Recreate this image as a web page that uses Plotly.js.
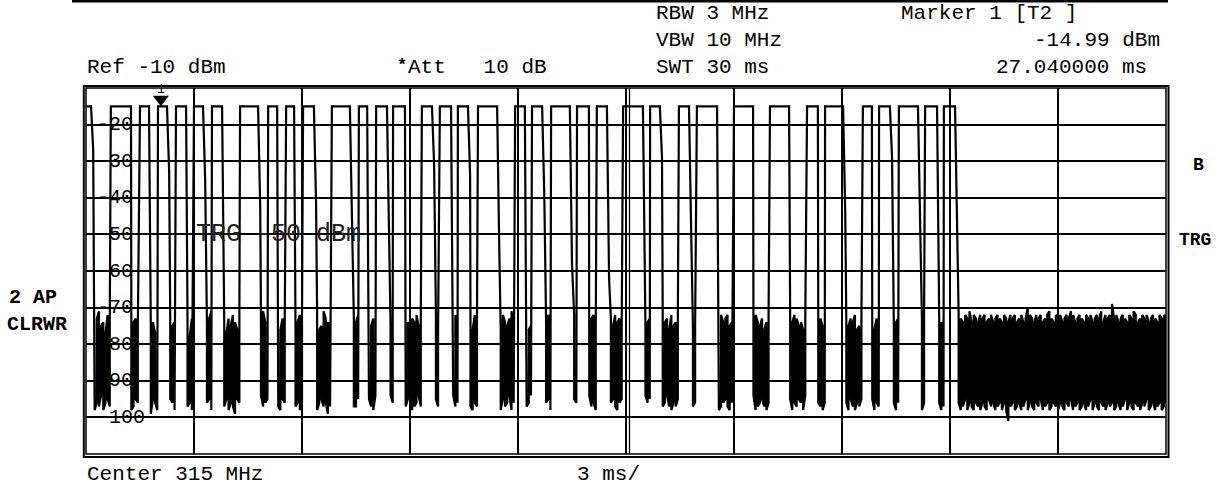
<!DOCTYPE html>
<html>
<head>
<meta charset="utf-8">
<script src="https://cdn.plot.ly/plotly-3.0.1.min.js"></script>
<style>
html,body{margin:0;padding:0;background:#fff;}
#chart{width:1228px;height:486px;}
</style>
</head>
<body>
<div id="chart"></div>
<script>
// ---------------- data ----------------
const sweepMs = 30;            // SWT 30 ms, 10 divisions of 3 ms
const nPoints = 501;           // trace points across the sweep
const refLevelDbm = -10;
const bottomDbm = -110;

// "on" periods of the OOK burst (ms)
const pulseStartMs = [0.00, 0.69, 1.50, 2.00, 2.50, 3.00, 3.50, 4.28, 5.06, 5.56,
                      6.03, 6.83, 7.58, 8.06, 8.53, 9.33, 9.83, 10.33, 10.89, 11.92,
                      12.39, 12.92, 13.64, 14.19, 14.92, 15.67, 16.47, 16.97, 18.00, 19.00,
                      20.03, 20.53, 21.58, 22.03, 22.58, 23.31, 23.83];
const pulseEndMs   = [0.14, 1.25, 1.75, 2.25, 2.78, 3.25, 3.78, 4.78, 5.31, 5.78,
                      6.33, 7.33, 7.81, 8.36, 8.86, 9.61, 10.14, 10.61, 11.42, 12.19,
                      12.67, 13.44, 13.97, 14.47, 15.47, 15.94, 16.75, 17.53, 18.53, 19.53,
                      20.33, 21.03, 21.83, 22.33, 23.11, 23.64, 24.14];
const pulseTopDbm = -15;
// level of the one sample caught half-way on each falling edge (null = none)
const fallMidDbm = [-27, null, null, -33, null, -35, null, -43, null, null,
                    -41, -44, null, -46, null, -31, null, -34, -54, null,
                    -39, -58, null, -62, -61, -29, -49, null, null, null,
                    null, -44, null, -29, -49, null, -51];

// auto-peak detector: max and min of the noise at each trace point (dBm)
const noiseMaxDbm = [
 -73,-75,-72,-74,-76,-73,-71,-75,-74,-77,-72,-74,-76,-73,-75,-72,-78,-74,-73,-75,-72,-76,-74,-73,-75,
 -74,-72,-76,-73,-71,-75,-74,-77,-73,-72,-75,-74,-76,-72,-73,-75,-74,-71,-76,-73,-75,-72,-74,-78,-73,
 -72,-75,-73,-76,-74,-72,-75,-73,-71,-74,-76,-73,-75,-72,-74,-77,-73,-75,-72,-74,-76,-73,-72,-75,-74,
 -75,-73,-72,-74,-76,-75,-73,-71,-74,-72,-75,-73,-77,-74,-72,-76,-73,-75,-74,-72,-73,-75,-76,-74,-72,
 -73,-74,-76,-72,-75,-73,-74,-72,-76,-75,-71,-73,-74,-75,-72,-73,-76,-74,-78,-72,-75,-73,-74,-76,-73,
 -74,-72,-75,-73,-74,-77,-72,-75,-73,-74,-76,-72,-73,-75,-74,-71,-75,-73,-72,-76,-74,-73,-75,-72,-74,
 -76,-73,-74,-72,-75,-73,-76,-74,-72,-73,-75,-74,-72,-76,-73,-75,-74,-72,-73,-77,-74,-72,-75,-73,-74,
 -72,-74,-73,-75,-76,-72,-74,-73,-75,-71,-74,-76,-73,-72,-75,-74,-73,-76,-72,-74,-75,-73,-71,-74,-76,
 -73,-75,-74,-72,-73,-76,-75,-73,-74,-72,-75,-73,-76,-74,-72,-73,-75,-74,-76,-72,-73,-75,-74,-73,-72,
 -75,-72,-73,-74,-76,-73,-72,-75,-74,-73,-72,-76,-74,-75,-73,-72,-74,-77,-73,-75,-72,-74,-73,-76,-74,
 -73,-74,-72,-75,-73,-76,-74,-72,-73,-75,-74,-73,-72,-76,-74,-73,-75,-72,-74,-73,-76,-72,-75,-74,-73,
 -74,-73,-75,-72,-74,-73,-76,-75,-72,-74,-73,-75,-74,-72,-73,-76,-74,-73,-75,-72,-74,-73,-72,-75,-74,
 -72,-75,-73,-74,-76,-72,-73,-75,-74,-73,-72,-74,-75,-73,-76,-74,-72,-73,-75,-74,-73,-72,-76,-74,-73,
 -75,-73,-74,-72,-73,-75,-74,-76,-73,-72,-74,-75,-73,-74,-72,-73,-75,-76,-74,-73,-72,-75,-74,-73,-76,
 -73,-72,-74,-75,-73,-74,-72,-76,-75,-73,-74,-72,-73,-75,-74,-76,-73,-72,-74,-75,-73,-74,-72,-73,-75,
 -74,-73,-75,-72,-74,-73,-76,-74,-72,-73,-75,-74,-73,-72,-74,-75,-73,-76,-74,-72,-73,-74,-75,-73,-72,
 -73,-72,-74,-73,-72,-73,-74,-72,-73,-71,-74,-72,-73,-74,-72,-73,-72,-74,-73,-72,-74,-73,-72,-73,-74,
 -72,-73,-74,-72,-73,-72,-74,-73,-72,-74,-73,-70,-72,-73,-74,-72,-73,-72,-74,-73,-72,-71,-73,-74,-72,
 -73,-72,-74,-73,-72,-73,-71,-72,-74,-73,-72,-73,-74,-72,-73,-72,-74,-73,-72,-73,-71,-74,-72,-73,-72,
 -69,-73,-72,-74,-73,-72,-73,-74,-72,-73,-71,-72,-74,-73,-72,-73,-72,-74,-73,-72,-73,-74,-72,-73,-72,
 -73
];
const noiseMinDbm = [
 -96,-98,-97,-95,-98,-96,-97,-94,-98,-96,-95,-97,-98,-96,-94,-97,-96,-98,-95,-97,-96,-98,-97,-95,-96,
 -97,-95,-98,-96,-97,-99,-95,-96,-98,-97,-94,-96,-97,-98,-95,-96,-98,-97,-95,-96,-98,-94,-97,-96,-98,
 -95,-97,-96,-98,-94,-97,-96,-95,-98,-97,-96,-94,-98,-96,-97,-95,-98,-96,-97,-99,-95,-96,-98,-97,-95,
 -98,-96,-95,-97,-96,-98,-94,-97,-96,-95,-98,-97,-96,-94,-97,-98,-95,-96,-97,-98,-96,-95,-97,-96,-98,
 -96,-97,-98,-95,-96,-94,-97,-98,-96,-95,-97,-96,-99,-97,-95,-96,-98,-97,-94,-96,-98,-95,-97,-96,-97,
 -97,-95,-96,-98,-97,-96,-95,-97,-98,-94,-96,-97,-95,-98,-96,-97,-94,-96,-98,-95,-97,-96,-98,-97,-95,
 -95,-98,-97,-96,-94,-97,-98,-95,-96,-97,-98,-96,-95,-97,-99,-96,-97,-95,-98,-96,-94,-97,-96,-98,-97,
 -98,-96,-95,-97,-98,-96,-97,-94,-96,-98,-95,-97,-96,-95,-98,-97,-96,-98,-95,-97,-96,-94,-98,-96,-97,
 -96,-97,-98,-95,-97,-96,-94,-98,-97,-95,-96,-98,-97,-96,-95,-98,-96,-97,-94,-96,-98,-97,-95,-96,-98,
 -97,-95,-96,-98,-96,-97,-98,-95,-94,-97,-96,-98,-95,-97,-96,-94,-98,-97,-96,-95,-97,-98,-96,-95,-97,
 -95,-97,-98,-96,-95,-97,-96,-98,-97,-94,-96,-95,-98,-97,-96,-98,-95,-97,-96,-94,-97,-98,-96,-97,-95,
 -98,-96,-97,-95,-98,-94,-97,-96,-95,-98,-97,-96,-94,-98,-96,-97,-95,-96,-98,-97,-96,-95,-97,-98,-96,
 -96,-98,-95,-97,-96,-98,-97,-95,-96,-94,-98,-97,-96,-95,-97,-98,-96,-94,-97,-96,-98,-95,-97,-96,-98,
 -97,-95,-98,-96,-97,-95,-96,-98,-94,-97,-96,-98,-97,-95,-96,-97,-98,-96,-95,-97,-99,-96,-95,-98,-97,
 -95,-97,-96,-98,-95,-97,-98,-96,-97,-95,-94,-98,-96,-97,-95,-98,-96,-97,-98,-95,-96,-97,-94,-98,-96,
 -98,-96,-97,-95,-98,-96,-95,-97,-98,-96,-97,-95,-98,-96,-94,-97,-98,-96,-95,-97,-96,-98,-97,-95,-96,
 -97,-96,-98,-97,-96,-98,-97,-95,-98,-96,-97,-98,-96,-97,-98,-96,-97,-98,-95,-97,-96,-98,-97,-96,-98,
 -96,-98,-101,-97,-96,-98,-97,-96,-98,-97,-95,-98,-96,-97,-98,-96,-97,-95,-98,-97,-96,-98,-97,-96,-97,
 -98,-96,-97,-98,-96,-97,-95,-98,-97,-96,-98,-97,-96,-98,-97,-95,-98,-96,-97,-98,-96,-97,-98,-96,-97,
 -96,-98,-97,-96,-98,-97,-95,-98,-96,-97,-98,-96,-97,-98,-96,-97,-95,-98,-97,-96,-98,-97,-96,-98,-97,
 -96
];

const yTickValues = [-20, -30, -40, -50, -60, -70, -80, -90, -100];
const yTickLabels = ['-20', '-30', '-40', '-50', '-60', '-70', '-80', '-90', '-100'];
const markerMs = 2.08;
const markerDbm = -14.99;

// ---------------- build trace (auto-peak: min/max per point) ----------------
const dt = sweepMs / (nPoints - 1);
const xs = [], ys = [];
let k = 0, i = 0, flip = false;
while (i < nPoints) {
  const t = i * dt;
  if (k < pulseStartMs.length && t >= pulseStartMs[k]) {
    xs.push(pulseStartMs[k]); ys.push(pulseTopDbm);
    xs.push(pulseEndMs[k]); ys.push(pulseTopDbm);
    let tResume = pulseEndMs[k];
    if (fallMidDbm[k] !== null) {
      tResume = pulseEndMs[k] + dt;
      xs.push(tResume); ys.push(fallMidDbm[k]);
    }
    while (i < nPoints && i * dt <= tResume) i++;
    k++;
    flip = false;
    continue;
  }
  xs.push(t, t);
  if (flip) ys.push(noiseMinDbm[i], noiseMaxDbm[i]);
  else ys.push(noiseMaxDbm[i], noiseMinDbm[i]);
  flip = !flip;
  i++;
}

// ---------------- geometry helpers ----------------
const W = 1228, H = 486, L = 86, R = 62, T = 88, B = 32;
const PW = W - L - R, PH = H - T - B;
const pxX = x => (x - L) / PW;
const pxY = y => (H - B - y) / PH;
const pxPerDb = PH / (refLevelDbm - bottomDbm);

const MONO = 'Liberation Mono, Courier New, DejaVu Sans Mono, monospace';
const nb = s => s.replace(/ /g, '\u00a0');
function txt(text, x, y, opt) {
  opt = opt || {};
  return {
    text: nb(text), xref: 'paper', yref: 'paper', x: pxX(x), y: pxY(y),
    xanchor: opt.xa || 'left', yanchor: 'middle', showarrow: false,
    font: {family: MONO, size: opt.size || 21, color: opt.color || '#000', weight: opt.bold ? 'bold' : 'normal'},
    borderpad: 0
  };
}

const annotations = [
  txt('RBW 3 MHz', 655, 13),
  txt('VBW 10 MHz', 655, 41),
  txt('SWT 30 ms', 655, 68),
  txt('Marker 1 [T2 ]', 900, 13),
  txt('-14.99 dBm', 1161, 41, {xa: 'right'}),
  txt('27.040000 ms', 1148, 68, {xa: 'right'}),
  txt('Ref -10 dBm', 86, 68),
  txt('*', 402, 66, {xa: 'center', bold: true, size: 17}),
  txt('Att   10 dB', 407, 68),
  txt('2 AP', 8, 297, {bold: true, size: 20}),
  txt('CLRWR', 6, 324, {bold: true, size: 20}),
  txt('B', 1199, 165, {xa: 'center', bold: true, size: 18}),
  txt('TRG', 1178, 240, {bold: true, size: 18}),
  txt('TRG -50 dBm', 195, 234, {size: 25, color: '#222'}),
  txt('Center 315 MHz', 86, 474),
  txt('3 ms/', 576, 474),
  txt('1', 161, 89, {xa: 'center', size: 13})
];
yTickValues.forEach((v, j) => {
  annotations.push({
    text: yTickLabels[j], xref: 'paper', yref: 'y', x: pxX(96), y: v,
    xanchor: 'left', yanchor: 'middle', showarrow: false, borderpad: 0,
    font: {family: MONO, size: 20, color: '#000'}
  });
});

const shapes = [
  // top bar
  {type: 'line', xref: 'paper', yref: 'paper', x0: pxX(72), x1: pxX(1168), y0: pxY(1.2), y1: pxY(1.2),
   line: {color: '#000', width: 2.5}},
  // inner frame
  {type: 'rect', xref: 'paper', yref: 'paper', x0: 0, x1: 1, y0: 0, y1: 1,
   line: {color: '#000', width: 1.5}},
  // outer frame
  {type: 'rect', xref: 'paper', yref: 'paper', x0: pxX(83.8), x1: pxX(1168.5), y0: pxY(457), y1: pxY(86),
   line: {color: '#000', width: 2}},
  // second line beside centre graticule
  {type: 'line', xref: 'paper', yref: 'paper', x0: pxX(629.5), x1: pxX(629.5), y0: 0, y1: 1,
   line: {color: '#000', width: 1.3}}
];
// white knock-outs behind level labels (grid hidden, trace on top)
yTickValues.forEach((v, j) => {
  const w = yTickLabels[j].length * 12 + 4;
  shapes.push({type: 'rect', layer: 'between', xref: 'paper', yref: 'y',
    x0: pxX(95), x1: pxX(95 + w), y0: v - 8 / pxPerDb, y1: v + 8 / pxPerDb,
    fillcolor: '#fff', line: {width: 0}});
});

const data = [
  {x: xs, y: ys, type: 'scatter', mode: 'lines', line: {color: '#000', width: 2.2},
   hoverinfo: 'skip', cliponaxis: true},
  {x: [markerMs], y: [markerDbm + 7 / pxPerDb], type: 'scatter', mode: 'markers',
   marker: {symbol: 'triangle-down', size: 14, color: '#000'}, hoverinfo: 'skip', cliponaxis: false}
];

const layout = {
  width: W, height: H,
  margin: {l: L, r: R, t: T, b: B, pad: 0},
  paper_bgcolor: '#fff', plot_bgcolor: '#fff',
  showlegend: false,
  xaxis: {range: [0, sweepMs], tick0: 0, dtick: sweepMs / 10, showgrid: true, gridcolor: '#000', gridwidth: 2,
          showticklabels: false, ticks: '', zeroline: false, showline: false, fixedrange: true},
  yaxis: {range: [bottomDbm, refLevelDbm], tick0: bottomDbm, dtick: 10, showgrid: true, gridcolor: '#000', gridwidth: 2,
          showticklabels: false, ticks: '', zeroline: false, showline: false, fixedrange: true},
  shapes: shapes,
  annotations: annotations
};

Plotly.newPlot('chart', data, layout, {staticPlot: true, displayModeBar: false});
</script>
</body>
</html>
